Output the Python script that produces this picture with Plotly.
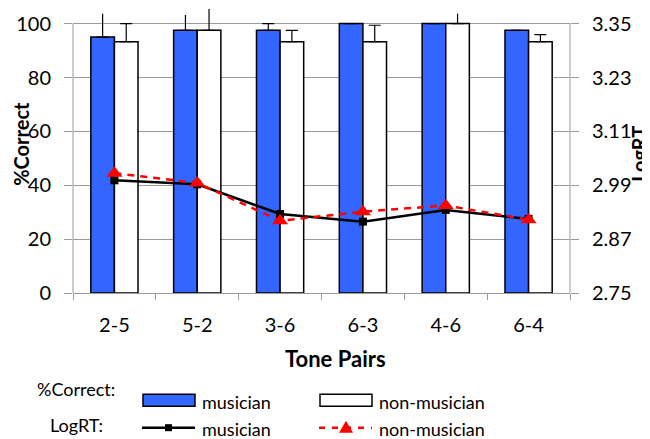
import plotly.graph_objects as go

# ---------------- data ----------------
categories = ["2-5", "5-2", "3-6", "6-3", "4-6", "6-4"]
pc_musician = [95.0, 97.5, 97.5, 100.0, 100.0, 97.5]
pc_musician_err = [8.7, 5.7, 2.5, 0.0, 0.0, 0.0]
pc_nonmusician = [93.3, 97.5, 93.3, 93.3, 100.0, 93.3]
pc_nonmusician_err = [6.7, 7.9, 4.2, 6.1, 3.7, 2.6]
rt_musician = [3.001, 2.992, 2.926, 2.909, 2.935, 2.915]
rt_nonmusician = [3.017, 2.995, 2.911, 2.931, 2.945, 2.913]
left_ticks = [0, 20, 40, 60, 80, 100]
right_ticks = [2.75, 2.87, 2.99, 3.11, 3.23, 3.35]

# ---------------- style ----------------
OFF = 8                      # page body margin of the html page
W, H = 650 - OFF, 439 - OFF
Y_TOP = 105.8                # headroom so error bars can rise above 100
AX_TOP, AX_BOT = 24, 293     # page y of value 100 and 0 (reference)
PX_PER_UNIT = (AX_BOT - AX_TOP) / 100.0
ML = 73 - OFF
MR = W - (570 - OFF)
MB = H - (AX_BOT - OFF)
PLOT_H = PX_PER_UNIT * Y_TOP
MT = H - MB - PLOT_H
FONT = "Lato"
BLUE = "#3366FF"
RED = "#FF0000"
GRID = "#9a9a9a"

y_lo, y_hi = left_ticks[0], left_ticks[-1]
r_lo, r_hi = right_ticks[0], right_ticks[-1]
r_top = r_lo + (r_hi - r_lo) * (Y_TOP - y_lo) / (y_hi - y_lo)


def px(x):
    """page x (reference pixels) -> paper fraction"""
    return (x - OFF - ML) / (W - ML - MR)


def py(y):
    """page y (reference pixels) -> paper fraction"""
    return (H - MB - (y - OFF)) / PLOT_H


def split_err(vals, errs):
    """error bars reaching past the axis top are drawn without a cap"""
    capped = [e if v + e <= y_hi + 1e-9 else 0 for v, e in zip(vals, errs)]
    open_ = [e if v + e > y_hi + 1e-9 else 0 for v, e in zip(vals, errs)]
    return capped, open_


fig = go.Figure()

series = [
    ("musician", pc_musician, pc_musician_err, BLUE),
    ("non-musician", pc_nonmusician, pc_nonmusician_err, "white"),
]
for name, vals, errs, color in series:
    capped, open_ = split_err(vals, errs)
    fig.add_trace(go.Bar(
        x=categories, y=vals, name=name, offsetgroup=name,
        marker=dict(color=color, line=dict(color="black", width=1.5)),
        error_y=dict(type="data", array=capped,
                     arrayminus=[0] * len(categories), symmetric=False,
                     color="black", thickness=1.2, width=6),
        showlegend=False,
    ))
    fig.add_trace(go.Bar(
        x=categories, y=vals, name=name, offsetgroup=name,
        marker=dict(color="rgba(0,0,0,0)", line=dict(width=0)),
        error_y=dict(type="data", array=open_,
                     arrayminus=[0] * len(categories), symmetric=False,
                     color="black", thickness=1.2, width=0),
        showlegend=False, hoverinfo="skip",
    ))

fig.add_trace(go.Scatter(
    x=categories, y=rt_musician, yaxis="y2", mode="lines+markers",
    line=dict(color="black", width=2.5),
    marker=dict(symbol="square", size=8, color="black"),
    cliponaxis=False, showlegend=False,
))
fig.add_trace(go.Scatter(
    x=categories, y=rt_nonmusician, yaxis="y2", mode="lines+markers",
    line=dict(color=RED, width=2.5, dash="7px,6px"),
    marker=dict(symbol="triangle-up", size=14, color=RED),
    cliponaxis=False, showlegend=False,
))

axis_font = dict(family=FONT, size=20, color="black")

fig.update_layout(
    width=W, height=H,
    margin=dict(l=ML, r=MR, t=MT, b=MB, autoexpand=False),
    paper_bgcolor="white", plot_bgcolor="white",
    barmode="group", bargap=0.43, bargroupgap=0,
    font=dict(family=FONT, color="black"),
    xaxis=dict(
        type="category", tickson="boundaries", ticks="outside",
        ticklen=6, tickcolor=GRID, tickwidth=1,
        showline=True, linecolor=GRID, linewidth=1,
        showgrid=False, tickfont=axis_font, ticklabelstandoff=14,
        automargin=False,
    ),
    yaxis=dict(
        range=[y_lo, Y_TOP], tickvals=left_ticks, ticks="outside", ticklen=8,
        tickcolor=GRID, showline=False,
        showgrid=True, gridcolor=GRID, gridwidth=1, zeroline=False,
        tickfont=axis_font, ticklabelstandoff=9, automargin=False,
    ),
    yaxis2=dict(
        overlaying="y", side="right", range=[r_lo, r_top],
        tickvals=right_ticks, ticktext=[f"{v:.2f}" for v in right_ticks],
        ticks="outside", ticklen=8, tickcolor=GRID,
        showline=False, showgrid=False, zeroline=False, tickfont=axis_font,
        ticklabelstandoff=9, automargin=False,
    ),
)

# vertical axis lines, stopping at the top tick
shapes = [
    dict(type="line", xref="paper", yref="y", x0=0, x1=0, y0=y_lo, y1=y_hi,
         line=dict(color=GRID, width=1), layer="above"),
    dict(type="line", xref="paper", yref="y", x0=1, x1=1, y0=y_lo, y1=y_hi,
         line=dict(color=GRID, width=1), layer="above"),
]

# axis titles
titles = [
    ("<b>Tone Pairs</b>", 335, 358.5, 0, 22),
    ("<b>%Correct</b>", 21, 144, -90, 20),
    ("<b>LogRT</b>", 639, 154, -90, 20),
]
for txt, x, y, ang, size in titles:
    fig.add_annotation(text=txt, xref="paper", yref="paper",
                       x=px(x), y=py(y), xanchor="center", yanchor="middle",
                       textangle=ang, showarrow=False,
                       font=dict(family=FONT, size=size, color="black"))

# ---------------- custom legend ----------------
leg_font = dict(family=FONT, size=18, color="black")
row2 = 427.5
shapes += [
    dict(type="rect", xref="paper", yref="paper",
         x0=px(143), x1=px(195), y0=py(406), y1=py(394),
         fillcolor=BLUE, line=dict(color="black", width=1.5)),
    dict(type="rect", xref="paper", yref="paper",
         x0=px(320), x1=px(372), y0=py(406), y1=py(394),
         fillcolor="white", line=dict(color="black", width=1.5)),
    dict(type="line", xref="paper", yref="paper",
         x0=px(142), x1=px(195), y0=py(row2), y1=py(row2),
         line=dict(color="black", width=2.5)),
    dict(type="rect", xref="paper", yref="paper",
         x0=px(165), x1=px(172), y0=py(row2 + 3.5), y1=py(row2 - 3.5),
         fillcolor="black", line=dict(color="black", width=0)),
    dict(type="line", xref="paper", yref="paper",
         x0=px(319), x1=px(372), y0=py(row2), y1=py(row2),
         line=dict(color=RED, width=2.5, dash="6px,7px")),
    dict(type="path", xref="paper", yref="paper",
         path=(f"M {px(339)},{py(row2 + 5)} L {px(353)},{py(row2 + 5)} "
               f"L {px(346)},{py(row2 - 7)} Z"),
         fillcolor=RED, line=dict(color=RED, width=0)),
]
fig.update_layout(shapes=shapes)

annots = [
    ("%Correct:", 76, 389, "center"),
    ("LogRT:", 76, 425, "center"),
    ("musician", 200, 402, "left"),
    ("non-musician", 377, 402, "left"),
    ("musician", 200, 429, "left"),
    ("non-musician", 377, 429, "left"),
]
for txt, x, y, anchor in annots:
    fig.add_annotation(text=txt, xref="paper", yref="paper",
                       x=px(x), y=py(y), xanchor=anchor, yanchor="middle",
                       showarrow=False, font=leg_font)

fig.write_html("out.html")
